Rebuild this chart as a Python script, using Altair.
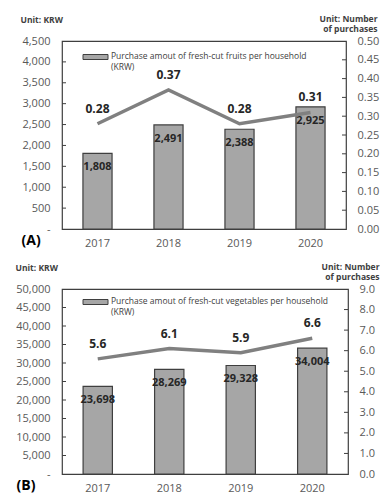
import altair as alt
import pandas as pd

years = ["2017", "2018", "2019", "2020"]
fruit_amount = [1808, 2491, 2388, 2925]
fruit_purchases = [0.28, 0.37, 0.28, 0.31]
veg_amount = [23698, 28269, 29328, 34004]
veg_purchases = [5.6, 6.1, 5.9, 6.6]

fruit_left_ticks = [0, 500, 1000, 1500, 2000, 2500, 3000, 3500, 4000, 4500]
fruit_right_ticks = [0.0, 0.05, 0.10, 0.15, 0.20, 0.25, 0.30, 0.35, 0.40, 0.45, 0.50]
veg_left_ticks = [0, 5000, 10000, 15000, 20000, 25000, 30000, 35000, 40000, 45000, 50000]
veg_right_ticks = [0.0, 1.0, 2.0, 3.0, 4.0, 5.0, 6.0, 7.0, 8.0, 9.0]

fruit_legend = "Purchase amout of fresh-cut fruits per household\n(KRW)"
veg_legend = "Purchase amout of fresh-cut vegetables per household\n(KRW)"
left_unit = "Unit: KRW"
right_unit = ["Unit: Number", "of purchases"]

FONT = "Open Sans"
BAR_FILL = "#a6a6a6"
EDGE = "#3f3f3f"
LINE = "#808080"


def panel(tag, legend_text, amounts, purchases, left_ticks, right_ticks, right_fmt,
          w, h, left_x, legend_y):
    df = pd.DataFrame({"year": years, "amount": amounts, "purchases": purchases})
    lscale = alt.Scale(domain=[left_ticks[0], left_ticks[-1]], nice=False, zero=True)
    rscale = alt.Scale(domain=[right_ticks[0], right_ticks[-1]], nice=False, zero=True)
    xaxis = alt.Axis(
        title=tag, labelAngle=0, ticks=False, domain=False, labelPadding=8,
        labelFont=FONT, labelFontSize=11, labelColor="#595959",
        titleX=left_x + 1, titleY=11, titleAngle=0, titleAlign="left",
        titleBaseline="middle", titleFont=FONT, titleFontSize=14,
        titleFontWeight="bold", titleColor="#000000",
    )
    xscale = alt.Scale(paddingInner=0.59, paddingOuter=0.295)
    laxis = alt.Axis(
        values=left_ticks, grid=False, domain=False, ticks=False,
        labelExpr="datum.value == 0 ? '-' : format(datum.value, ',')",
        labelFont=FONT, labelFontSize=11, labelColor="#595959", labelPadding=12,
        title=left_unit, titleAngle=0, titleX=left_x, titleY=-22,
        titleAlign="left", titleBaseline="middle", titleFont=FONT,
        titleFontSize=8.5, titleFontWeight="bold", titleColor="#404040",
    )
    raxis = alt.Axis(
        orient="right", values=right_ticks, format=right_fmt, grid=False,
        domain=False, ticks=False, labelFont=FONT, labelFontSize=11,
        labelColor="#595959", labelPadding=11,
        title=right_unit, titleAngle=0, titleX=31, titleY=-27,
        titleAlign="right", titleBaseline="top", titleLineHeight=10,
        titleFont=FONT, titleFontSize=8.5, titleFontWeight="bold",
        titleColor="#404040",
    )

    bars = alt.Chart(df).mark_bar(fill=BAR_FILL, stroke=EDGE, strokeWidth=1.2).encode(
        x=alt.X("year:N", scale=xscale, axis=xaxis),
        y=alt.Y("amount:Q", scale=lscale, axis=laxis),
    )
    bar_labels = alt.Chart(df).mark_text(
        dy=14, baseline="middle", font=FONT, fontSize=11, fontWeight="bold", color="#262626"
    ).encode(
        x=alt.X("year:N", scale=xscale, axis=xaxis),
        y=alt.Y("amount:Q", scale=lscale, axis=laxis),
        text=alt.Text("amount:Q", format=","),
    )
    lt = pd.DataFrame({"amount": left_ticks[1:-1]})
    left_tick_marks = alt.Chart(lt).mark_rule(color=EDGE, strokeWidth=1).encode(
        y=alt.Y("amount:Q", scale=lscale, axis=laxis), x=alt.value(0), x2=alt.value(4)
    )
    leg = pd.DataFrame({"t": [legend_text]})
    legend_box = alt.Chart(leg).mark_rect(fill=BAR_FILL, stroke=EDGE, strokeWidth=1).encode(
        x=alt.value(21), x2=alt.value(46), y=alt.value(legend_y - 2.5), y2=alt.value(legend_y + 2.5)
    )
    legend_txt = alt.Chart(leg).mark_text(
        align="left", baseline="top", lineBreak="\n", lineHeight=11, font=FONT,
        fontSize=8.5, color="#404040",
    ).encode(x=alt.value(49), y=alt.value(legend_y - 5), text="t:N")

    left_group = alt.layer(bars, bar_labels, left_tick_marks, legend_box, legend_txt)

    line = alt.Chart(df).mark_line(color=LINE, strokeWidth=3.5).encode(
        x=alt.X("year:N", scale=xscale, axis=xaxis),
        y=alt.Y("purchases:Q", scale=rscale, axis=raxis),
    )
    line_labels = alt.Chart(df).mark_text(
        dy=-15, baseline="middle", font=FONT, fontSize=12, fontWeight="bold", color="#262626"
    ).encode(
        x=alt.X("year:N", scale=xscale, axis=xaxis),
        y=alt.Y("purchases:Q", scale=rscale, axis=raxis),
        text=alt.Text("purchases:Q", format=right_fmt),
    )
    rt = pd.DataFrame({"purchases": right_ticks[1:-1]})
    right_tick_marks = alt.Chart(rt).mark_rule(color=EDGE, strokeWidth=1).encode(
        y=alt.Y("purchases:Q", scale=rscale, axis=raxis), x=alt.value(w - 4), x2=alt.value(w)
    )
    right_group = alt.layer(line, line_labels, right_tick_marks)

    return alt.layer(left_group, right_group).resolve_scale(y="independent").properties(
        width=w, height=h
    )


panel_a = panel("(A)", fruit_legend, fruit_amount, fruit_purchases, fruit_left_ticks,
                fruit_right_ticks, ".2f", 284, 188, -42, 16)
panel_b = panel("(B)", veg_legend, veg_amount, veg_purchases, veg_left_ticks,
                veg_right_ticks, ".1f", 286, 185, -47, 13)

chart = alt.vconcat(panel_a, panel_b, spacing=12).properties(
    padding={"left": 6, "top": 5, "right": 0, "bottom": 0}
).configure_view(stroke=EDGE, strokeWidth=1.2)

chart.save("out.html", embed_options={"renderer": "svg", "actions": False})
